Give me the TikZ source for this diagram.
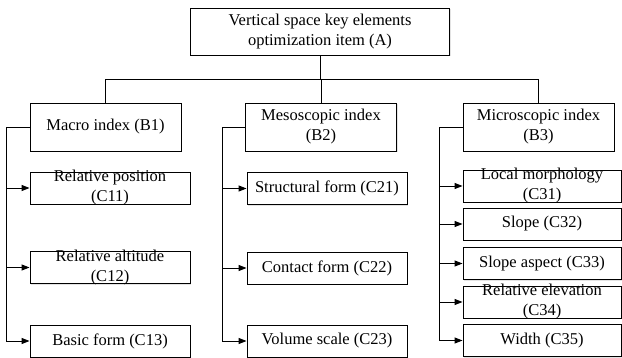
\documentclass[tikz,border=0pt]{standalone}
\usepackage{fontspec}
\setmainfont{Liberation Serif}
\usetikzlibrary{arrows.meta,positioning,shadows}

\tikzset{
  box/.style={draw, fill=white, line width=0.9pt, inner sep=0pt, align=center,
    drop shadow={shadow xshift=1.2pt, shadow yshift=-1.2pt, opacity=0.22}},
  topbox/.style={box, minimum width=259pt, minimum height=47pt},
  midbox/.style={box, minimum width=151pt, minimum height=48pt},
  leafbox/.style={box, minimum width=160pt, minimum height=32pt},
  leafnarrow/.style={leafbox, minimum width=158pt},
  txt/.style={align=center, inner sep=0pt},
  link/.style={line width=0.9pt},
  arr/.style={link, -{Triangle[length=8pt,width=6pt]}}
}

\begin{document}
\begin{tikzpicture}[x=1pt,y=-1pt,font=\fontsize{16.5}{20}\selectfont]
    \useasboundingbox (0,0) rectangle (622,358);
    \def\gap{23}
    \node[topbox] (a) at (320,31.5) {Vertical space key elements\\optimization item (A)};
    \coordinate (bar) at (0,79);

    \node[midbox] (b1) at (105.5,127) {Macro index (B1)};
    \node[midbox] (b2) at (321,127) {Mesoscopic index\\(B2)};
    \node[midbox] (b3) at (538.5,127) {Microscopic index\\(B3)};

    \node[leafbox, label={[txt]center:Relative position\\(C11)}] (c11) at (110,188) {};
    \node[leafbox, label={[txt]center:Relative altitude\\(C12)}] (c12) at (110,267.5) {};
    \node[leafbox] (c13) at (110,341) {Basic form (C13)};

    \node[leafbox] (c21) at (327,188.5) {Structural form (C21)};
    \node[leafbox] (c22) at (327,268) {Contact form (C22)};
    \node[leafbox] (c23) at (327,341) {Volume scale (C23)};

    \node[leafnarrow, label={[txt]center:Local morphology\\(C31)}] (c31) at (542,186) {};
    \node[leafnarrow] (c32) at (542,224) {Slope (C32)};
    \node[leafnarrow] (c33) at (542,263.5) {Slope aspect (C33)};
    \node[leafnarrow, label={[txt]center:Relative elevation\\(C34)}] (c34) at (542,302) {};
    \node[leafnarrow] (c35) at (542,340.5) {Width (C35)};

    \draw[link] (a.south) -- (a.south |- bar);
    \draw[link] (b1.north) -- (b1.north |- bar) -| (b3.north);
    \draw[link] (b2.north |- bar) -- (b2.north);

    \coordinate (t1) at ([xshift=-\gap pt]b1.west);
    \coordinate (t2) at ([xshift=-\gap pt]b2.west);
    \coordinate (t3) at ([xshift=-\gap pt]b3.west);

    \draw[arr] (b1.west) -- (t1) |- (c13.west);
    \draw[arr] (b2.west) -- (t2) |- (c23.west);
    \draw[arr] (b3.west) -- (t3) |- (c35.west);
    \foreach \c in {c11,c12}
        \draw[arr] (t1 |- \c.west) -- (\c.west);
    \foreach \c in {c21,c22}
        \draw[arr] (t2 |- \c.west) -- (\c.west);
    \foreach \c in {c31,c32,c33,c34}
        \draw[arr] (t3 |- \c.west) -- (\c.west);
\end{tikzpicture}
\end{document}
